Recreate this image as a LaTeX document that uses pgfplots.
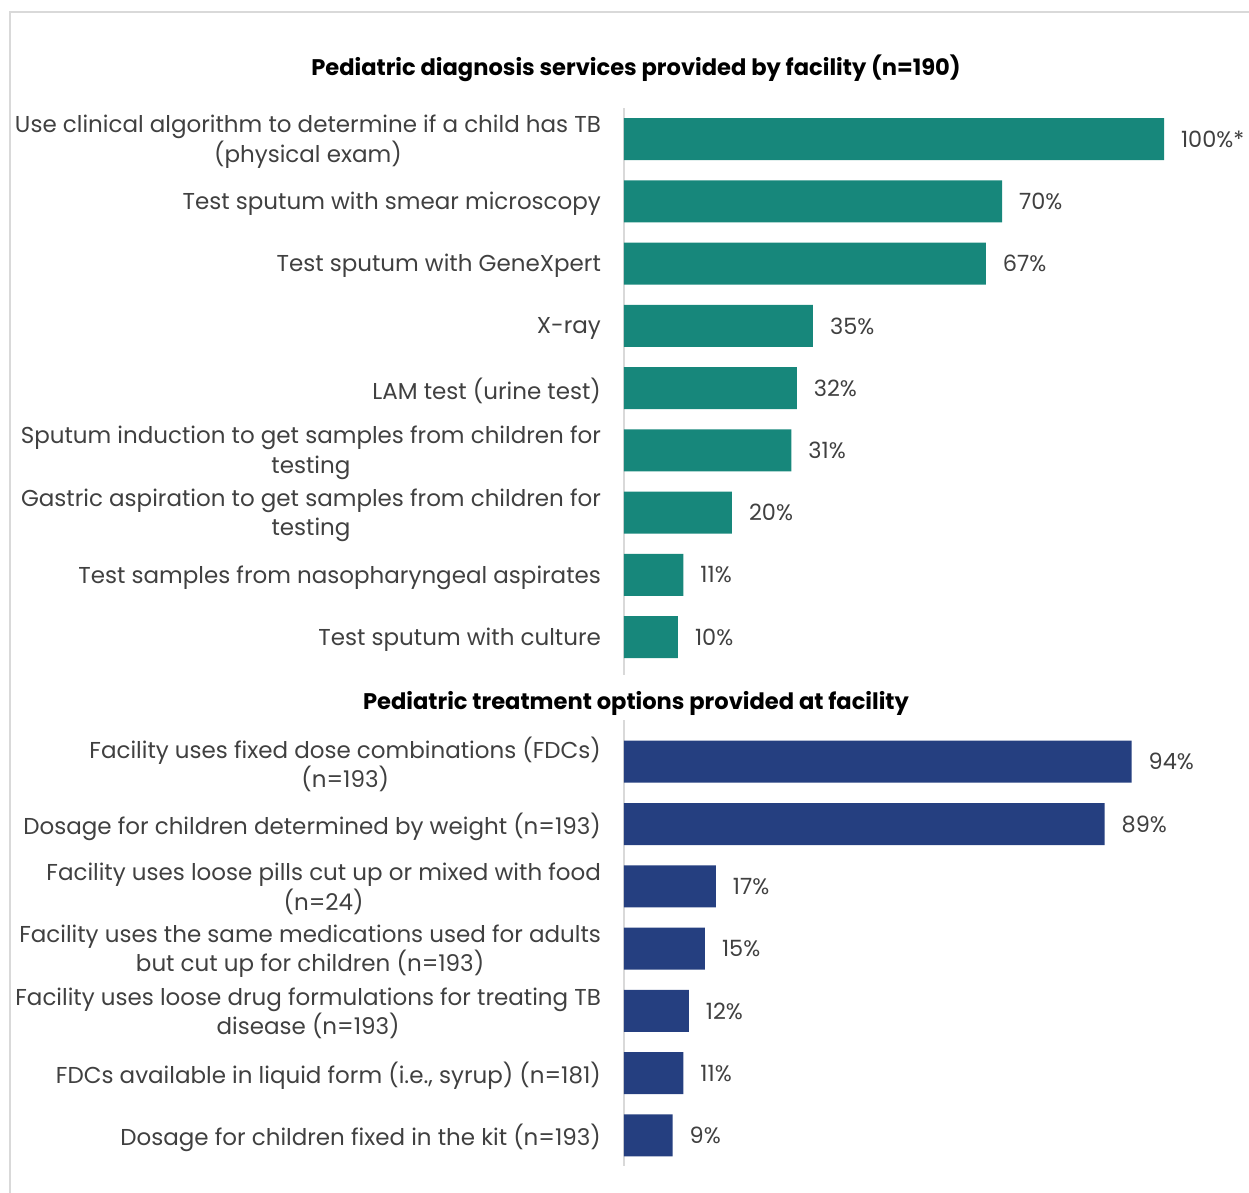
\documentclass[border=0pt]{standalone}
\usepackage{pgfplots}
\pgfplotsset{compat=1.18}
\usepackage{fontspec}
\setmainfont{Poppins}
\definecolor{teal1}{HTML}{17877B}
\definecolor{navy1}{HTML}{253F80}
\definecolor{txt}{HTML}{404040}
\definecolor{axgray}{HTML}{D9D9D9}
\pgfplotsset{
  mybars/.style={
    scale only axis, width=270pt,
    xmin=0, xmax=100,
    y dir=reverse,
    xbar, bar width=21pt, bar shift=0pt,
    hide x axis,
    axis y line*=left,
    y axis line style={draw=axgray, line width=1pt, -},
    ytick style={draw=none},
    major tick length=0pt,
    yticklabel style={align=center, font=\fontsize{11.5}{14.7}\selectfont, text=txt, xshift=-8pt, yshift=-1.2pt},
    point meta=explicit symbolic,
    nodes near coords,
    nodes near coords style={anchor=west, xshift=5pt, text=txt, font=\fontsize{11.2}{13}\selectfont},
    clip=false,
  }
}
\begin{document}
\begin{tikzpicture}
\useasboundingbox (0,0) rectangle (624.5pt,-596.5pt);
\draw[axgray, line width=1pt] (5pt,-596.5pt) -- (5pt,-6pt) -- (624.5pt,-6pt);
\node[font=\bfseries\fontsize{11.3}{13}\selectfont] at (318pt,-34pt) {Pediatric diagnosis services provided by facility (n=190)};
\node[font=\bfseries\fontsize{11.3}{13}\selectfont] at (318pt,-351.5pt) {Pediatric treatment options provided at facility};
\begin{axis}[mybars,
  at={(312pt,-54pt)}, anchor=north west,
  height=283.3pt, ymin=-0.5, ymax=8.6,
  ytick={0,...,8},
  yticklabels={
    {Use clinical algorithm to determine if a child has TB\\(physical exam)},
    {Test sputum with smear microscopy},
    {Test sputum with GeneXpert},
    {X-ray},
    {LAM test (urine test)},
    {Sputum induction to get samples from children for\\testing},
    {Gastric aspiration to get samples from children for\\testing},
    {Test samples from nasopharyngeal aspirates},
    {Test sputum with culture}},
]
\addplot[fill=teal1, draw=none] coordinates {
  (100,0) [100\%*]
  (70,1) [70\%]
  (67,2) [67\%]
  (35,3) [35\%]
  (32,4) [32\%]
  (31,5) [31\%]
  (20,6) [20\%]
  (11,7) [11\%]
  (10,8) [10\%]
};
\end{axis}
\begin{axis}[mybars,
  at={(312pt,-360pt)}, anchor=north west,
  height=223pt, ymin=-0.67, ymax=6.49,
  ytick={0,...,6},
  yticklabels={
    {Facility uses fixed dose combinations (FDCs)\\(n=193)},
    {Dosage for children determined by weight (n=193)},
    {Facility uses loose pills cut up or mixed with food\\(n=24)},
    {Facility uses the same medications used for adults\\but cut up for children (n=193)},
    {Facility uses loose drug formulations for treating TB\\disease (n=193)},
    {FDCs available in liquid form (i.e., syrup) (n=181)},
    {Dosage for children fixed in the kit (n=193)}},
]
\addplot[fill=navy1, draw=none] coordinates {
  (94,0) [94\%]
  (89,1) [89\%]
  (17,2) [17\%]
  (15,3) [15\%]
  (12,4) [12\%]
  (11,5) [11\%]
  (9,6) [9\%]
};
\end{axis}
\end{tikzpicture}
\end{document}
